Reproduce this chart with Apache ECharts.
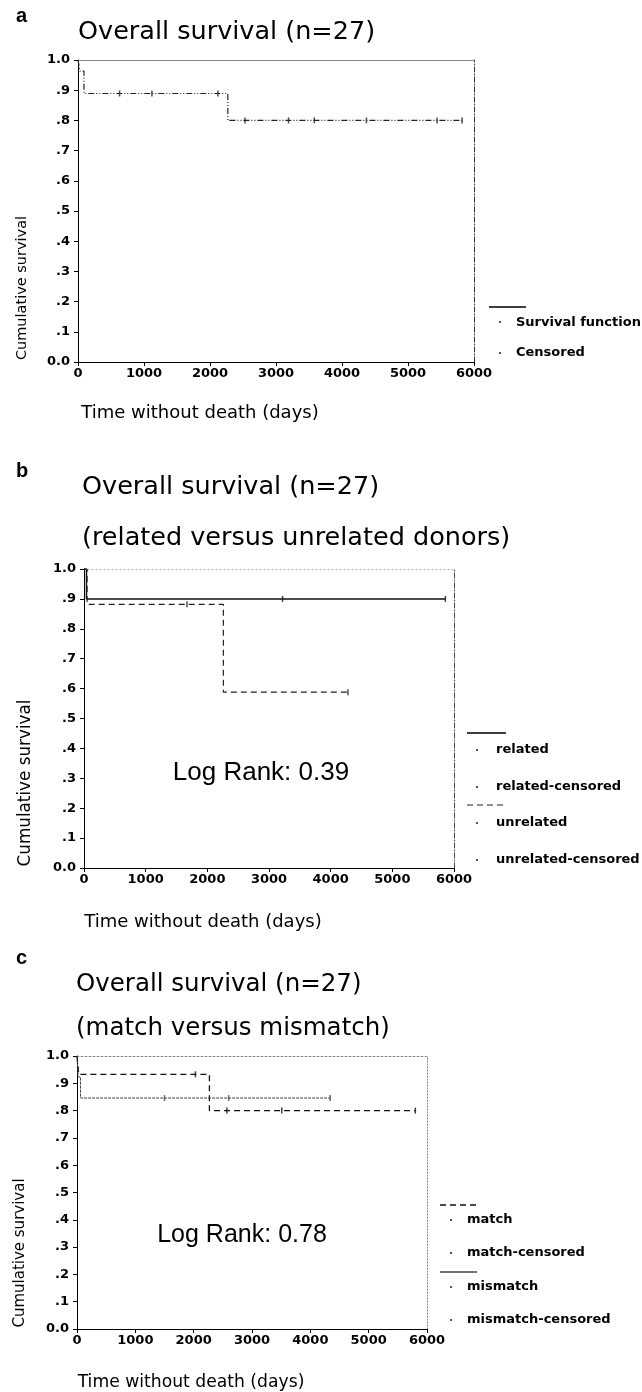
<!DOCTYPE html>
<html><head><meta charset="utf-8">
<script src="https://cdn.jsdelivr.net/npm/echarts@6/dist/echarts.min.js"></script>
<style>html,body{margin:0;padding:0;background:#fff}#c{width:642px;height:1392px}</style>
</head><body><div id="c"></div>
<script>
// ---- tick labels ----
const xTickLabels = ['0','1000','2000','3000','4000','5000','6000'];
const yTickLabels = ['0.0','.1','.2','.3','.4','.5','.6','.7','.8','.9','1.0'];

// ---- panel a: overall survival ----
const aTimes = [0, 30, 90, 2270, 5820];
const aSurv  = [1.0, 0.963, 0.889, 0.800, 0.800];
const aCensTimes = [630, 1120, 2120, 2530, 3190, 3580, 4370, 5440, 5820];
const aCensSurv  = [0.889, 0.889, 0.889, 0.800, 0.800, 0.800, 0.800, 0.800, 0.800];

// ---- panel b: related vs unrelated ----
const relTimes = [0, 40, 5860];
const relSurv  = [1.0, 0.900, 0.900];
const relCensTimes = [3220, 5860];
const relCensSurv  = [0.900, 0.900];
const unrelTimes = [0, 50, 2260, 4280];
const unrelSurv  = [1.0, 0.882, 0.588, 0.588];
const unrelCensTimes = [1670, 4280];
const unrelCensSurv  = [0.882, 0.588];

// ---- panel c: match vs mismatch ----
const matchTimes = [0, 30, 2270, 5800];
const matchSurv  = [1.0, 0.933, 0.800, 0.800];
const matchCensTimes = [2030, 2570, 3510, 5800];
const matchCensSurv  = [0.933, 0.800, 0.800, 0.800];
const misTimes = [0, 20, 60, 4340];
const misSurv  = [1.0, 0.923, 0.846, 0.846];
const misCensTimes = [1500, 2600, 4340];
const misCensSurv  = [0.846, 0.846, 0.846];

// ---- texts ----
const panelLetters = ['a', 'b', 'c'];
const titleA = ['Overall survival (n=27)'];
const titleB = ['Overall survival (n=27)', '(related versus unrelated donors)'];
const titleC = ['Overall survival (n=27)', '(match versus mismatch)'];
const yTitle = 'Cumulative survival';
const xTitle = 'Time without death (days)';
const legendA = ['Survival function', 'Censored'];
const legendB = ['related', 'related-censored', 'unrelated', 'unrelated-censored'];
const legendC = ['match', 'match-censored', 'mismatch', 'mismatch-censored'];
const logRankB = 'Log Rank: 0.39';
const logRankC = 'Log Rank: 0.78';

const FONT = 'DejaVu Sans';
const pairs = (t, s) => t.map((v, i) => [v, s[i]]);

const grids = [
  {left: 78, top: 60, width: 396, height: 302},
  {left: 84, top: 569, width: 370, height: 299},
  {left: 77, top: 1056, width: 350, height: 273}
];
const topStyles = [
  {color: '#888', width: 1, type: 'solid'},
  {color: '#aaa', width: 1, type: [1, 3]},
  {color: '#888', width: 1, type: [2, 2]}
];
const rightStyles = [
  {color: '#333', width: 1, type: [5, 2, 1, 2]},
  {color: '#444', width: 1, type: [5, 2, 1, 2]},
  {color: '#777', width: 1, type: [1, 2]}
];

const xAxis = [], yAxis = [];
grids.forEach((g, gi) => {
  xAxis.push({
    type: 'value', gridIndex: gi, min: 0, max: 6000, interval: 1000,
    axisLine: {show: true, onZero: false, lineStyle: {color: '#000', width: 1}},
    axisTick: {show: true, length: 4, lineStyle: {color: '#000'}},
    axisLabel: {show: true, margin: 5, fontFamily: FONT, fontWeight: 'bold', fontSize: 13, color: '#000',
      showMinLabel: true, showMaxLabel: true, hideOverlap: false,
      formatter: v => xTickLabels[Math.round(v / 1000)]},
    splitLine: {show: false}
  });
  xAxis.push({
    type: 'value', gridIndex: gi, position: 'top', min: 0, max: 6000,
    axisLine: {show: true, onZero: false, lineStyle: topStyles[gi]},
    axisTick: {show: false}, axisLabel: {show: false}, splitLine: {show: false}
  });
  yAxis.push({
    type: 'value', gridIndex: gi, min: 0, max: 1, interval: 0.1,
    axisLine: {show: true, onZero: false, lineStyle: {color: '#000', width: 1}},
    axisTick: {show: true, length: 4, lineStyle: {color: '#000'}},
    axisLabel: {show: true, margin: 8, fontFamily: FONT, fontWeight: 'bold', fontSize: 13, color: '#000',
      showMinLabel: true, showMaxLabel: true, hideOverlap: false,
      formatter: v => yTickLabels[Math.round(v * 10)]},
    splitLine: {show: false}
  });
  yAxis.push({
    type: 'value', gridIndex: gi, position: 'right', min: 0, max: 1,
    axisLine: {show: true, onZero: false, lineStyle: rightStyles[gi]},
    axisTick: {show: false}, axisLabel: {show: false}, splitLine: {show: false}
  });
});

function km(gi, times, surv, color, width, type) {
  return {type: 'line', xAxisIndex: gi * 2, yAxisIndex: gi * 2, step: 'end', symbol: 'none',
    data: pairs(times, surv), lineStyle: {color, width, type}, silent: true, animation: false, z: 3};
}
function cens(gi, times, surv, color) {
  return {type: 'scatter', xAxisIndex: gi * 2, yAxisIndex: gi * 2, symbol: 'rect', symbolSize: [1.5, 6],
    data: pairs(times, surv), itemStyle: {color}, silent: true, animation: false, z: 4};
}

const series = [
  km(0, aTimes, aSurv, '#222', 1.2, [6, 2, 1, 2, 1, 2]),
  cens(0, aCensTimes, aCensSurv, '#222'),
  km(1, relTimes, relSurv, '#111', 1.5, 'solid'),
  cens(1, relCensTimes, relCensSurv, '#111'),
  km(1, unrelTimes, unrelSurv, '#222', 1.2, [6, 4]),
  cens(1, unrelCensTimes, unrelCensSurv, '#222'),
  km(2, matchTimes, matchSurv, '#111', 1.3, [6, 4]),
  cens(2, matchCensTimes, matchCensSurv, '#111'),
  km(2, misTimes, misSurv, '#444', 1.0, [3, 1]),
  cens(2, misCensTimes, misCensSurv, '#444')
];

// ---- graphic helpers (titles, axis names, legends) ----
function txt(x, y, text, font, align, rot) {
  return {type: 'text', x, y, rotation: rot || 0, silent: true,
    style: {text, font, fill: '#000', textAlign: align || 'left', textVerticalAlign: 'middle',
      align: align || 'left', verticalAlign: 'middle'}};
}
function seg(x1, y1, x2, y2, dash, color, w) {
  return {type: 'line', silent: true, shape: {x1, y1, x2, y2},
    style: {stroke: color, lineWidth: w, lineDash: dash}};
}
function dot(x, y) {
  return {type: 'rect', silent: true, shape: {x: x, y: y - 1, width: 2, height: 2}, style: {fill: '#555'}};
}
const R = Math.PI / 2;
const LF = 'bold 13px "DejaVu Sans"';
const graphic = [
  // panel a
  txt(16, 16, panelLetters[0], 'bold 20px "Liberation Sans"'),
  txt(78, 32, titleA[0], '25.5px "DejaVu Sans"'),
  txt(22, 288, yTitle, '14.5px "DejaVu Sans"', 'center', R),
  txt(200, 413, xTitle, '18px "DejaVu Sans"', 'center'),
  seg(489, 307, 526, 307, null, '#000', 1.5),
  dot(499, 322), txt(516, 323, legendA[0], LF),
  dot(499, 353), txt(516, 353, legendA[1], LF),
  // panel b
  txt(16, 471, panelLetters[1], 'bold 20px "Liberation Sans"'),
  txt(82, 487, titleB[0], '25.5px "DejaVu Sans"'),
  txt(82, 538, titleB[1], '25.5px "DejaVu Sans"'),
  txt(26, 783, yTitle, '16.8px "DejaVu Sans"', 'center', R),
  txt(203, 922, xTitle, '18px "DejaVu Sans"', 'center'),
  txt(261, 773, logRankB, '26px "Liberation Sans"', 'center'),
  seg(467, 733, 506, 733, null, '#000', 1.5),
  dot(476, 750), txt(496, 750, legendB[0], LF),
  dot(476, 787), txt(496, 787, legendB[1], LF),
  seg(467, 805, 506, 805, [6, 4], '#222', 1.2),
  dot(476, 823), txt(496, 823, legendB[2], LF),
  dot(476, 860), txt(496, 860, legendB[3], LF),
  // panel c
  txt(16, 958, panelLetters[2], 'bold 20px "Liberation Sans"'),
  txt(76, 985, titleC[0], '24.5px "DejaVu Sans"'),
  txt(76, 1029, titleC[1], '24.5px "DejaVu Sans"'),
  txt(20, 1253, yTitle, '15px "DejaVu Sans"', 'center', R),
  txt(191, 1383, xTitle, '17.2px "DejaVu Sans"', 'center'),
  txt(242, 1235, logRankC, '25px "Liberation Sans"', 'center'),
  seg(440, 1205, 477, 1205, [6, 4], '#111', 1.3),
  dot(450, 1220), txt(467, 1220, legendC[0], LF),
  dot(450, 1253), txt(467, 1253, legendC[1], LF),
  seg(440, 1272, 477, 1272, null, '#444', 1.5),
  dot(450, 1287), txt(467, 1287, legendC[2], LF),
  dot(450, 1320), txt(467, 1320, legendC[3], LF)
];

const chart = echarts.init(document.getElementById('c'), null, {renderer: 'canvas'});
chart.setOption({
  animation: false,
  backgroundColor: '#fff',
  grid: grids.map(g => Object.assign({containLabel: false, show: false}, g)),
  xAxis, yAxis, series, graphic,
  legend: {show: false}, tooltip: {show: false}
});
</script></body></html>
